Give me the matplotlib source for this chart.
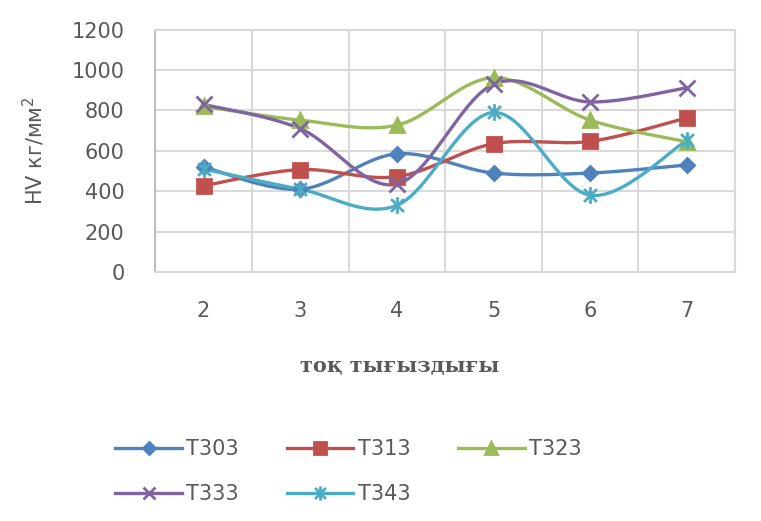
import numpy as np
import matplotlib.pyplot as plt
from matplotlib.path import Path

# ток тығыздығы и твердость HV для каждого образца
density = [2, 3, 4, 5, 6, 7]
t303 = [520, 410, 585, 490, 490, 530]
t313 = [427, 507, 472, 635, 647, 763]
t323 = [820, 752, 727, 962, 752, 645]
t333 = [830, 710, 435, 930, 842, 912]
t343 = [510, 410, 330, 790, 380, 652]

names = ["Т303", "Т313", "Т323", "Т333", "Т343"]
colors = ["#4F81BD", "#C0504D", "#9BBB59", "#8064A2", "#4BACC6"]

# звездочка как в Excel: крестик + вертикальная черта
star = Path([(-1, -1), (1, 1), (-1, 1), (1, -1), (0, -1.3), (0, 1.3)],
            [Path.MOVETO, Path.LINETO, Path.MOVETO, Path.LINETO,
             Path.MOVETO, Path.LINETO])
markers = ["D", "s", "^", "x", star]
msizes = [7.5, 10, 10, 11, 12]


def smooth(x, y, n=30):
    """Сглаживание кривой сплайном Катмулла-Рома (как в Excel)."""
    x = np.asarray(x, float)
    y = np.asarray(y, float)
    px = np.concatenate([[x[0]], x, [x[-1]]])
    py = np.concatenate([[y[0]], y, [y[-1]]])
    xs, ys = [], []
    for i in range(1, len(px) - 2):
        p0 = np.array([px[i], py[i]])
        p3 = np.array([px[i + 1], py[i + 1]])
        c1 = p0 + (np.array([px[i + 1], py[i + 1]]) - np.array([px[i - 1], py[i - 1]])) / 6
        c2 = p3 - (np.array([px[i + 2], py[i + 2]]) - np.array([px[i], py[i]])) / 6
        t = np.linspace(0, 1, n)[:, None]
        b = ((1 - t) ** 3) * p0 + 3 * ((1 - t) ** 2) * t * c1 + 3 * (1 - t) * t ** 2 * c2 + t ** 3 * p3
        xs.extend(b[:, 0])
        ys.extend(b[:, 1])
    return np.array(xs), np.array(ys)


fig = plt.figure(figsize=(7.61, 5.21), dpi=100)
ax = fig.add_axes([0.204, 0.478, 0.762, 0.465])

idx = np.arange(len(density))
handles = []
for vals, name, c, m, ms in zip([t303, t313, t323, t333, t343], names, colors, markers, msizes):
    sx, sy = smooth(idx, vals)
    ax.plot(sx, sy, color=c, lw=2.4, zorder=3)
    ax.plot(idx, vals, ls="none", marker=m, ms=ms, color=c,
            mec=c, mew=2, zorder=4)
    h, = ax.plot([], [], color=c, lw=2.4, marker=m, ms=ms * 0.85, mec=c, mew=2, label=name)
    handles.append(h)

ax.set_xlim(-0.5, len(density) - 0.5)
ax.set_ylim(0, 1200)
ax.set_yticks(range(0, 1201, 200))
ax.set_xticks(idx)
ax.set_xticklabels([str(d) for d in density])
ax.set_xticks(np.arange(-0.5, len(density), 1), minor=True)
ax.grid(True, which="major", axis="y", color="#D9D9D9", lw=1.5)
ax.grid(True, which="minor", axis="x", color="#D9D9D9", lw=1.5)
ax.tick_params(which="both", length=0, labelsize=15, colors="#595959")
ax.tick_params(axis="y", pad=22)
ax.tick_params(axis="x", pad=21)
for s in ax.spines.values():
    s.set_color("#D9D9D9")
    s.set_linewidth(1.5)
ax.spines["left"].set_color("#BFBFBF")

ax.set_ylabel("HV кг/мм$^2$", fontsize=15, color="#595959", labelpad=18)
fig.text(0.525, 0.298, "тоқ тығыздығы", ha="center", va="center",
         family="DejaVu Serif", weight="bold", fontsize=15, color="#595959")

# порядок для заполнения легенды по строкам
order = [0, 3, 1, 4, 2]
fig.legend(handles=[handles[i] for i in order], loc="upper left",
           bbox_to_anchor=(0.127, 0.193), bbox_transform=fig.transFigure,
           ncol=3, frameon=False, fontsize=15, handlelength=3.2,
           handletextpad=0.2, columnspacing=2.3, labelspacing=1.2,
           labelcolor="#595959")

fig.savefig("out.png", dpi=100)
